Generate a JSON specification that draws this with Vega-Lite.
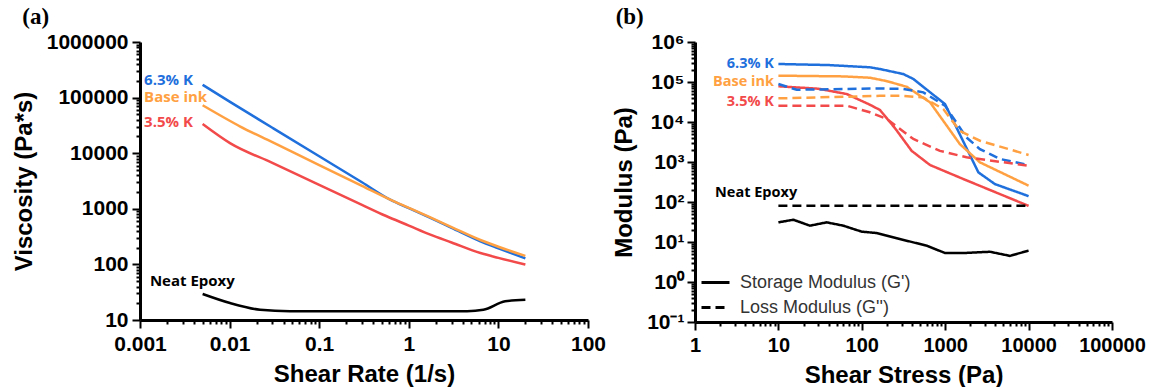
{
  "$schema": "https://vega.github.io/schema/vega-lite/v6.json",
  "background": "white",
  "padding": {"left": 12, "top": 6, "right": 0, "bottom": 0},
  "spacing": 107,
  "bounds": "flush",
  "resolve": {"legend": {"strokeDash": "independent", "color": "independent"}, "scale": {"color": "independent", "strokeDash": "independent"}},
  "config": {
    "view": {"stroke": null},
    "axis": {
      "domainColor": "black", "domainWidth": 3, "tickColor": "black", "tickWidth": 2,
      "labelColor": "black", "titleColor": "black",
      "labelFont": "Liberation Sans", "titleFont": "Liberation Sans",
      "labelFontWeight": "bold", "titleFontWeight": "bold",
      "grid": false, "labelFlush": false, "labelOverlap": false, "labelBound": false
    },
    "legend": {
      "orient": "bottom-left", "offset": 5, "padding": 0,
      "labelFont": "Liberation Sans", "labelFontSize": 18, "labelColor": "#333333", "labelLimit": 400,
      "symbolType": "stroke", "symbolSize": 784, "symbolStrokeWidth": 3,
      "symbolStrokeColor": "black", "labelOffset": 9, "rowPadding": 0
    }
  },
  "datasets": {
    "visc": [
      {"s": "6.3% K", "x": 0.005, "y": 170000}, {"s": "6.3% K", "x": 0.01, "y": 84500}, {"s": "6.3% K", "x": 0.03, "y": 28700}, {"s": "6.3% K", "x": 0.1, "y": 8800}, {"s": "6.3% K", "x": 0.3, "y": 3000}, {"s": "6.3% K", "x": 0.62, "y": 1460}, {"s": "6.3% K", "x": 1, "y": 1025}, {"s": "6.3% K", "x": 1.74, "y": 684}, {"s": "6.3% K", "x": 3, "y": 454}, {"s": "6.3% K", "x": 6.3, "y": 260}, {"s": "6.3% K", "x": 10, "y": 195}, {"s": "6.3% K", "x": 20, "y": 128},
      {"s": "Base ink", "x": 0.005, "y": 72800}, {"s": "Base ink", "x": 0.013, "y": 30500}, {"s": "Base ink", "x": 0.03, "y": 15800}, {"s": "Base ink", "x": 0.1, "y": 6120}, {"s": "Base ink", "x": 0.3, "y": 2580}, {"s": "Base ink", "x": 0.62, "y": 1460}, {"s": "Base ink", "x": 1, "y": 1040}, {"s": "Base ink", "x": 1.74, "y": 700}, {"s": "Base ink", "x": 3, "y": 470}, {"s": "Base ink", "x": 6.3, "y": 275}, {"s": "Base ink", "x": 10, "y": 208}, {"s": "Base ink", "x": 20, "y": 142},
      {"s": "3.5% K", "x": 0.005, "y": 33500}, {"s": "3.5% K", "x": 0.0101, "y": 15200}, {"s": "3.5% K", "x": 0.03, "y": 6700}, {"s": "3.5% K", "x": 0.1, "y": 2700}, {"s": "3.5% K", "x": 0.3, "y": 1180}, {"s": "3.5% K", "x": 0.55, "y": 750}, {"s": "3.5% K", "x": 1, "y": 500}, {"s": "3.5% K", "x": 1.74, "y": 342}, {"s": "3.5% K", "x": 3, "y": 248}, {"s": "3.5% K", "x": 6.3, "y": 160}, {"s": "3.5% K", "x": 10, "y": 131}, {"s": "3.5% K", "x": 20, "y": 99},
      {"s": "Neat Epoxy", "x": 0.005, "y": 29.4}, {"s": "Neat Epoxy", "x": 0.0101, "y": 20.2}, {"s": "Neat Epoxy", "x": 0.0219, "y": 15.3}, {"s": "Neat Epoxy", "x": 0.047, "y": 14.4}, {"s": "Neat Epoxy", "x": 0.5, "y": 14.4}, {"s": "Neat Epoxy", "x": 4.47, "y": 14.4}, {"s": "Neat Epoxy", "x": 6.8, "y": 15.3}, {"s": "Neat Epoxy", "x": 11.9, "y": 21.7}, {"s": "Neat Epoxy", "x": 20, "y": 23.2}
    ],
    "labA": [
      {"s": "6.3% K", "label": "6.3% K", "x": 0.00111, "y": 210000},
      {"s": "Base ink", "label": "Base ink", "x": 0.00111, "y": 101000},
      {"s": "3.5% K", "label": "3.5% K", "x": 0.00111, "y": 36400},
      {"s": "Neat Epoxy", "label": "Neat Epoxy", "x": 0.00129, "y": 51}
    ],
    "mod": [
      {"s": "6.3% K", "t": "Storage Modulus (G')", "x": 10, "y": 282000}, {"s": "6.3% K", "t": "Storage Modulus (G')", "x": 40, "y": 265000}, {"s": "6.3% K", "t": "Storage Modulus (G')", "x": 125, "y": 233000}, {"s": "6.3% K", "t": "Storage Modulus (G')", "x": 165, "y": 211000}, {"s": "6.3% K", "t": "Storage Modulus (G')", "x": 315, "y": 158000}, {"s": "6.3% K", "t": "Storage Modulus (G')", "x": 415, "y": 119000}, {"s": "6.3% K", "t": "Storage Modulus (G')", "x": 995, "y": 28000}, {"s": "6.3% K", "t": "Storage Modulus (G')", "x": 2500, "y": 550}, {"s": "6.3% K", "t": "Storage Modulus (G')", "x": 3950, "y": 280}, {"s": "6.3% K", "t": "Storage Modulus (G')", "x": 10000, "y": 140},
      {"s": "Base ink", "t": "Storage Modulus (G')", "x": 10, "y": 144000}, {"s": "Base ink", "t": "Storage Modulus (G')", "x": 60, "y": 138000}, {"s": "Base ink", "t": "Storage Modulus (G')", "x": 125, "y": 128000}, {"s": "Base ink", "t": "Storage Modulus (G')", "x": 200, "y": 105000}, {"s": "Base ink", "t": "Storage Modulus (G')", "x": 345, "y": 76000}, {"s": "Base ink", "t": "Storage Modulus (G')", "x": 658, "y": 31000}, {"s": "Base ink", "t": "Storage Modulus (G')", "x": 1500, "y": 2800}, {"s": "Base ink", "t": "Storage Modulus (G')", "x": 2610, "y": 980}, {"s": "Base ink", "t": "Storage Modulus (G')", "x": 10000, "y": 256},
      {"s": "3.5% K", "t": "Storage Modulus (G')", "x": 10, "y": 78000}, {"s": "3.5% K", "t": "Storage Modulus (G')", "x": 30, "y": 68000}, {"s": "3.5% K", "t": "Storage Modulus (G')", "x": 66, "y": 50000}, {"s": "3.5% K", "t": "Storage Modulus (G')", "x": 125, "y": 27000}, {"s": "3.5% K", "t": "Storage Modulus (G')", "x": 165, "y": 20000}, {"s": "3.5% K", "t": "Storage Modulus (G')", "x": 250, "y": 7000}, {"s": "3.5% K", "t": "Storage Modulus (G')", "x": 396, "y": 1900}, {"s": "3.5% K", "t": "Storage Modulus (G')", "x": 658, "y": 840}, {"s": "3.5% K", "t": "Storage Modulus (G')", "x": 1650, "y": 375}, {"s": "3.5% K", "t": "Storage Modulus (G')", "x": 10000, "y": 80},
      {"s": "6.3% K", "t": "Loss Modulus (G'')", "x": 10, "y": 89000}, {"s": "6.3% K", "t": "Loss Modulus (G'')", "x": 16.6, "y": 64000}, {"s": "6.3% K", "t": "Loss Modulus (G'')", "x": 165, "y": 69000}, {"s": "6.3% K", "t": "Loss Modulus (G'')", "x": 315, "y": 67000}, {"s": "6.3% K", "t": "Loss Modulus (G'')", "x": 547, "y": 55000}, {"s": "6.3% K", "t": "Loss Modulus (G'')", "x": 995, "y": 25600}, {"s": "6.3% K", "t": "Loss Modulus (G'')", "x": 1800, "y": 4100}, {"s": "6.3% K", "t": "Loss Modulus (G'')", "x": 2610, "y": 2100}, {"s": "6.3% K", "t": "Loss Modulus (G'')", "x": 4540, "y": 1190}, {"s": "6.3% K", "t": "Loss Modulus (G'')", "x": 10000, "y": 840},
      {"s": "Base ink", "t": "Loss Modulus (G'')", "x": 10, "y": 39000}, {"s": "Base ink", "t": "Loss Modulus (G'')", "x": 165, "y": 45000}, {"s": "Base ink", "t": "Loss Modulus (G'')", "x": 315, "y": 45000}, {"s": "Base ink", "t": "Loss Modulus (G'')", "x": 547, "y": 41000}, {"s": "Base ink", "t": "Loss Modulus (G'')", "x": 950, "y": 21000}, {"s": "Base ink", "t": "Loss Modulus (G'')", "x": 1500, "y": 6000}, {"s": "Base ink", "t": "Loss Modulus (G'')", "x": 2610, "y": 3400}, {"s": "Base ink", "t": "Loss Modulus (G'')", "x": 10000, "y": 1500},
      {"s": "3.5% K", "t": "Loss Modulus (G'')", "x": 10, "y": 25600}, {"s": "3.5% K", "t": "Loss Modulus (G'')", "x": 66, "y": 25600}, {"s": "3.5% K", "t": "Loss Modulus (G'')", "x": 125, "y": 17500}, {"s": "3.5% K", "t": "Loss Modulus (G'')", "x": 199, "y": 11900}, {"s": "3.5% K", "t": "Loss Modulus (G'')", "x": 415, "y": 3760}, {"s": "3.5% K", "t": "Loss Modulus (G'')", "x": 866, "y": 1900}, {"s": "3.5% K", "t": "Loss Modulus (G'')", "x": 1800, "y": 1310}, {"s": "3.5% K", "t": "Loss Modulus (G'')", "x": 10000, "y": 810},
      {"s": "Neat Epoxy", "t": "Loss Modulus (G'')", "x": 10, "y": 81}, {"s": "Neat Epoxy", "t": "Loss Modulus (G'')", "x": 10000, "y": 81},
      {"s": "Neat Epoxy", "t": "Storage Modulus (G')", "x": 10, "y": 31}, {"s": "Neat Epoxy", "t": "Storage Modulus (G')", "x": 15.1, "y": 36}, {"s": "Neat Epoxy", "t": "Storage Modulus (G')", "x": 23.9, "y": 25.6}, {"s": "Neat Epoxy", "t": "Storage Modulus (G')", "x": 37.9, "y": 31}, {"s": "Neat Epoxy", "t": "Storage Modulus (G')", "x": 60, "y": 25.6}, {"s": "Neat Epoxy", "t": "Storage Modulus (G')", "x": 100, "y": 18.1}, {"s": "Neat Epoxy", "t": "Storage Modulus (G')", "x": 150, "y": 16.8}, {"s": "Neat Epoxy", "t": "Storage Modulus (G')", "x": 262, "y": 12.4}, {"s": "Neat Epoxy", "t": "Storage Modulus (G')", "x": 600, "y": 8.1}, {"s": "Neat Epoxy", "t": "Storage Modulus (G')", "x": 995, "y": 5.3}, {"s": "Neat Epoxy", "t": "Storage Modulus (G')", "x": 1650, "y": 5.3}, {"s": "Neat Epoxy", "t": "Storage Modulus (G')", "x": 3440, "y": 5.7}, {"s": "Neat Epoxy", "t": "Storage Modulus (G')", "x": 5980, "y": 4.5}, {"s": "Neat Epoxy", "t": "Storage Modulus (G')", "x": 10000, "y": 6.1}
    ],
    "labB": [
      {"s": "6.3% K", "label": "6.3% K", "x": 8.85, "y": 282000, "side": "r"},
      {"s": "Base ink", "label": "Base ink", "x": 8.85, "y": 98000, "side": "r"},
      {"s": "3.5% K", "label": "3.5% K", "x": 8.85, "y": 31000, "side": "r"},
      {"s": "Neat Epoxy", "label": "Neat Epoxy", "x": 1.74, "y": 168, "side": "l"}
    ]
  },
  "hconcat": [
    {
      "width": 448, "height": 278,
      "title": {"text": "(a)", "anchor": "start", "frame": "bounds", "font": "Liberation Serif", "fontSize": 23, "fontWeight": "bold", "color": "black", "offset": 2, "dx": 10},
      "layer": [
        {
          "data": {"name": "visc"},
          "mark": {"type": "line", "strokeWidth": 2.5, "interpolate": "monotone"},
          "encoding": {
            "x": {"field": "x", "type": "quantitative",
              "scale": {"type": "log", "domain": [0.001, 100], "nice": false},
              "axis": {"title": "Shear Rate (1/s)", "labelFontSize": 21, "titleFontSize": 24, "labelPadding": 5, "titlePadding": 8,
                "values": [0.001,0.002,0.003,0.004,0.005,0.006,0.007,0.008,0.009,0.01,0.02,0.03,0.04,0.05,0.06,0.07,0.08,0.09,0.1,0.2,0.3,0.4,0.5,0.6,0.7,0.8,0.9,1,2,3,4,5,6,7,8,9,10,20,30,40,50,60,70,80,90,100],
                "labelExpr": "abs(log(datum.value)/LN10 - round(log(datum.value)/LN10)) < 0.001 ? '' + datum.value : ''",
                "tickSize": {"condition": {"test": "abs(log(datum.value)/LN10 - round(log(datum.value)/LN10)) < 0.001", "value": 8}, "value": 4}}},
            "y": {"field": "y", "type": "quantitative",
              "scale": {"type": "log", "domain": [10, 1000000], "nice": false},
              "axis": {"title": "Viscosity (Pa*s)", "labelFontSize": 21, "titleFontSize": 24, "labelPadding": 4, "titlePadding": 10,
                "values": [10,20,30,40,50,60,70,80,90,100,200,300,400,500,600,700,800,900,1000,2000,3000,4000,5000,6000,7000,8000,9000,10000,20000,30000,40000,50000,60000,70000,80000,90000,100000,200000,300000,400000,500000,600000,700000,800000,900000,1000000],
                "labelExpr": "abs(log(datum.value)/LN10 - round(log(datum.value)/LN10)) < 0.001 ? '' + datum.value : ''",
                "tickSize": {"condition": {"test": "abs(log(datum.value)/LN10 - round(log(datum.value)/LN10)) < 0.001", "value": 8}, "value": 4}}},
            "color": {"field": "s", "type": "nominal", "legend": null,
              "scale": {"domain": ["6.3% K", "Base ink", "3.5% K", "Neat Epoxy"], "range": ["#1f6fdc", "#ffa142", "#f24a4a", "#000000"]}}
          }
        },
        {
          "data": {"name": "labA"},
          "mark": {"type": "text", "align": "left", "baseline": "middle", "font": "Open Sans", "fontWeight": "bold", "fontSize": 15},
          "encoding": {
            "x": {"field": "x", "type": "quantitative"},
            "y": {"field": "y", "type": "quantitative"},
            "text": {"field": "label"},
            "color": {"field": "s", "type": "nominal", "legend": null}
          }
        }
      ]
    },
    {
      "width": 417, "height": 280,
      "title": {"text": "(b)", "anchor": "start", "frame": "bounds", "font": "Liberation Serif", "fontSize": 23, "fontWeight": "bold", "color": "black", "offset": 2, "dx": 3},
      "layer": [
        {
          "data": {"name": "mod"},
          "mark": {"type": "line", "strokeWidth": 2.5},
          "encoding": {
            "x": {"field": "x", "type": "quantitative",
              "scale": {"type": "log", "domain": [1, 100000], "nice": false},
              "axis": {"title": "Shear Stress (Pa)", "labelFontSize": 20, "titleFontSize": 24, "labelPadding": 5, "titlePadding": 8,
                "values": [1,2,3,4,5,6,7,8,9,10,20,30,40,50,60,70,80,90,100,200,300,400,500,600,700,800,900,1000,2000,3000,4000,5000,6000,7000,8000,9000,10000,20000,30000,40000,50000,60000,70000,80000,90000,100000],
                "labelExpr": "abs(log(datum.value)/LN10 - round(log(datum.value)/LN10)) < 0.001 ? '' + datum.value : ''",
                "tickSize": {"condition": {"test": "abs(log(datum.value)/LN10 - round(log(datum.value)/LN10)) < 0.001", "value": 8}, "value": 4}}},
            "y": {"field": "y", "type": "quantitative",
              "scale": {"type": "log", "domain": [0.1, 1000000], "nice": false},
              "axis": {"title": "Modulus (Pa)", "labelFontSize": 21, "titleFontSize": 24, "labelPadding": 3, "titlePadding": 10,
                "values": [0.1,0.2,0.3,0.4,0.5,0.6,0.7,0.8,0.9,1,2,3,4,5,6,7,8,9,10,20,30,40,50,60,70,80,90,100,200,300,400,500,600,700,800,900,1000,2000,3000,4000,5000,6000,7000,8000,9000,10000,20000,30000,40000,50000,60000,70000,80000,90000,100000,200000,300000,400000,500000,600000,700000,800000,900000,1000000],
                "labelExpr": "abs(log(datum.value)/LN10 - round(log(datum.value)/LN10)) < 0.001 ? '10' + ['⁻¹','⁰','¹','²','³','⁴','⁵','⁶'][round(log(datum.value)/LN10) + 1] : ''",
                "tickSize": {"condition": {"test": "abs(log(datum.value)/LN10 - round(log(datum.value)/LN10)) < 0.001", "value": 8}, "value": 4}}},
            "color": {"field": "s", "type": "nominal", "legend": null,
              "scale": {"domain": ["6.3% K", "Base ink", "3.5% K", "Neat Epoxy"], "range": ["#1f6fdc", "#ffa142", "#f24a4a", "#000000"]}},
            "strokeDash": {"field": "t", "type": "nominal",
              "scale": {"domain": ["Storage Modulus (G')", "Loss Modulus (G'')"], "range": [[1, 0], [9, 5]]},
              "legend": {"title": null, "orient": "bottom-left", "offset": 5}}
          }
        },
        {
          "data": {"name": "labB"},
          "transform": [{"filter": "datum.side == 'r'"}],
          "mark": {"type": "text", "align": "right", "baseline": "middle", "font": "Open Sans", "fontWeight": "bold", "fontSize": 14.5},
          "encoding": {
            "x": {"field": "x", "type": "quantitative"},
            "y": {"field": "y", "type": "quantitative"},
            "text": {"field": "label"},
            "color": {"field": "s", "type": "nominal", "legend": null}
          }
        },
        {
          "data": {"name": "labB"},
          "transform": [{"filter": "datum.side == 'l'"}],
          "mark": {"type": "text", "align": "left", "baseline": "middle", "font": "Open Sans", "fontWeight": "bold", "fontSize": 14.5},
          "encoding": {
            "x": {"field": "x", "type": "quantitative"},
            "y": {"field": "y", "type": "quantitative"},
            "text": {"field": "label"},
            "color": {"field": "s", "type": "nominal", "legend": null}
          }
        }
      ]
    }
  ]
}
